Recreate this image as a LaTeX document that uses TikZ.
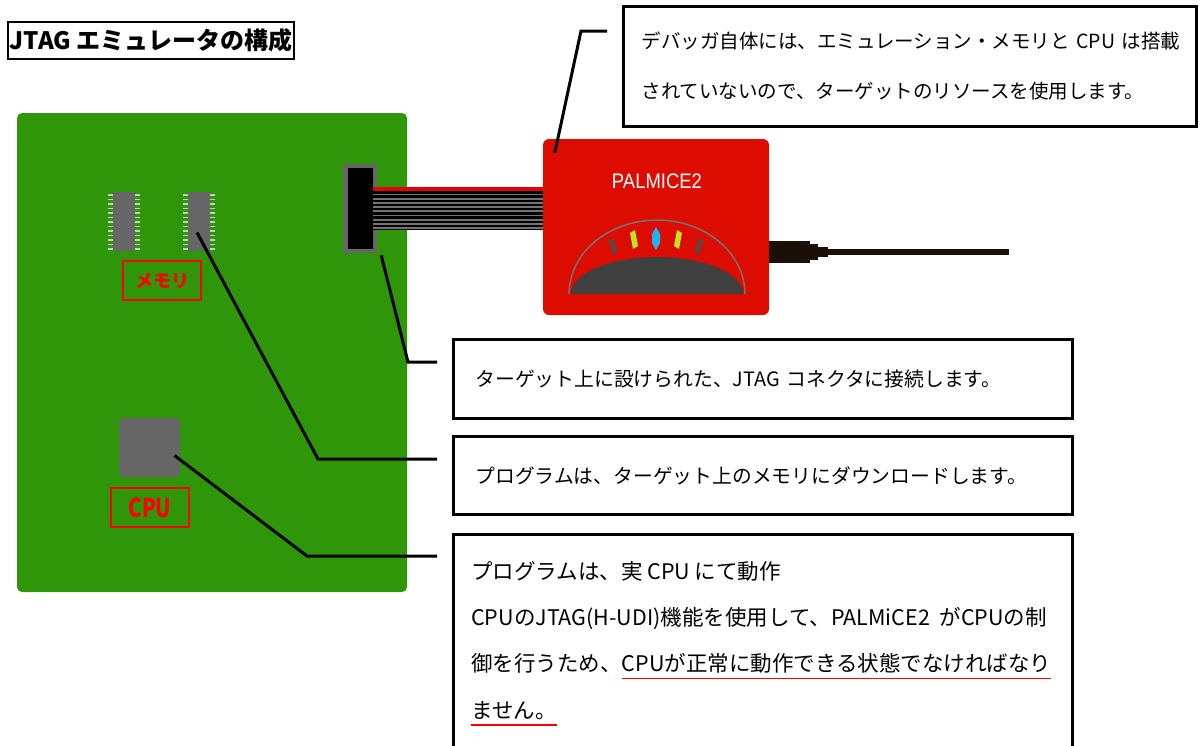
\documentclass[tikz,border=0pt]{standalone}
\usepackage{fontspec}
\usepackage{graphicx}
\newfontfamily\jp{Noto Sans CJK JP}
\newfontfamily\arial{Liberation Sans}
\definecolor{board}{RGB}{47,150,10}
\definecolor{icered}{RGB}{221,12,0}
\definecolor{chipgray}{RGB}{102,102,102}
\definecolor{domegray}{RGB}{64,64,64}
\definecolor{ledgreen}{RGB}{190,230,30}
\definecolor{ledblue}{RGB}{30,180,240}
\definecolor{cable}{RGB}{26,16,8}
% red underline under a run of text
\newcommand{\redline}[1]{\setbox0\hbox{#1}\rlap{\color{red}\rule[-7.5pt]{\wd0}{1.8pt}}\box0}

\begin{document}
\begin{tikzpicture}[x=1pt, y=-1pt,
  lead/.style={line width=3pt},
  note/.style={draw, line width=3pt, anchor=north west, align=left, inner xsep=22pt,
    font={\jp\fontsize{19.8pt}{50pt}\selectfont}},
  tag/.style={draw=red, line width=1.5pt, text=red, inner sep=0pt,
    minimum width=78pt, minimum height=39pt},
  chip/.style={fill=chipgray, inner sep=0pt}]
\useasboundingbox (0,0) rectangle (1200,745);
\clip (0,0) rectangle (1200,745);

% title
\node[draw, line width=1.5pt, inner sep=0pt, minimum width=286pt, minimum height=37pt,
  font={\jp\bfseries\fontsize{24pt}{28pt}\selectfont}] (title) at (151,40.5) {JTAG エミュレータの構成};

% target board
\fill[board, rounded corners=5pt] (17,113) rectangle (407,592);
% memory chips with pins
\node[chip, minimum width=22pt, minimum height=59pt] (mem1) at (124,221.5) {};
\node[chip, minimum width=22pt, minimum height=59pt] (mem2) at (199,221.5) {};
\foreach \x in {108,135,183,210} {
  \foreach \k in {0,...,12} {
    \fill[black!20] (\x,{194+\k*4.5}) rectangle ({\x+5},{195.8+\k*4.5});
  }
}
\node[tag, font={\jp\bfseries\fontsize{18pt}{20pt}\selectfont}] (memtag) at (162,280.5) {メモリ};
% cpu
\node[chip, rounded corners=4pt, minimum width=61pt, minimum height=59pt] (cpu) at (149.5,447.5) {};
\node[tag, font={\jp\bfseries\fontsize{26pt}{28pt}\selectfont}] (cputag) at (150,507.5) {\scalebox{0.78}[1]{CPU}};
% jtag connector
\node[fill=chipgray, inner sep=0pt, minimum width=34pt, minimum height=89pt] (jtag) at (360,208.5) {};
\fill[black] (348,168) rectangle (373,249);

% ribbon cable
\fill[black] (373,187) rectangle (543,230);
\fill[red!90!black] (373,187) rectangle (543,190.5);
\foreach \k in {0,...,8} {
  \fill[black!55] (373,{193.5+\k*4.2}) rectangle (543,{195.3+\k*4.2});
}

% emulator pod
\node[fill=icered, rounded corners=6pt, inner sep=0pt, minimum width=226pt, minimum height=176pt] (ice) at (656,227) {};
\node[text=white, font={\arial\fontsize{21pt}{24pt}\selectfont}] (icename) at (657,181) {\scalebox{0.88}[1]{PALMICE2}};
\fill[domegray] plot[domain=180:360, samples=40] ({657+86*cos(\x)},{294+37*sin(\x)}) -- cycle;
\draw[black!55, line width=1.5pt] plot[domain=180:360, samples=40] ({657+88*cos(\x)},{294+74*sin(\x)});
% indicator lamps
\fill[black!70] (609,240) -- (613,238) -- (617,252) -- (613,255) -- cycle;
\fill[ledgreen] (630,233) -- (635,230) -- (638,246) -- (633,249) -- cycle;
\fill[ledblue] (656,227) -- (660,234) -- (660,243) -- (656,250) -- (652,243) -- (652,234) -- cycle;
\fill[ledgreen] (682,233) -- (677,230) -- (674,246) -- (679,249) -- cycle;
\fill[black!70] (703,240) -- (699,238) -- (695,252) -- (699,255) -- cycle;
% host cable
\fill[cable] (769,241) rectangle (810,263);
\fill[cable] (810,244) rectangle (818,260);
\fill[cable] (818,247) rectangle (828,257);
\fill[cable] (828,249) rectangle (1009,255);

% notes
\node[note, text width=537pt, inner xsep=18pt, minimum height=120pt,
  font={\jp\fontsize{19.5pt}{50pt}\selectfont}] (dbg) at (622,5)
  {\mbox{デバッガ自体には、エミュレーション・メモリと CPU は搭載}\\
   \mbox{されていないので、ターゲットのリソースを使用します。}};
\node[note, text width=575pt, minimum height=79pt] (tgt) at (452,338)
  {ターゲット上に設けられた、JTAG コネクタに接続します。};
\node[note, text width=575pt, minimum height=78pt] (dl) at (452,435)
  {プログラムは、ターゲット上のメモリにダウンロードします。};
\node[draw, line width=3pt, anchor=north west, minimum width=619pt, minimum height=240pt] (cpubox) at (452,533) {};
\node[anchor=north west, align=left, inner sep=0pt, font={\jp\fontsize{21.5pt}{46.3pt}\selectfont}] (cputext)
  at ([shift={(19,28)}]cpubox.north west)
  {プログラムは、実 CPU にて動作\\
   CPUのJTAG(H-UDI)機能を使用して、PALMiCE2\ \ がCPUの制\\
   御を行うため、\redline{CPUが正常に動作できる状態でなければなり}\\
   \redline{ません。}};

% leader lines
\coordinate (k0) at (581,31);  \coordinate (e0) at (607,31);
\coordinate (k1) at (408,362); \coordinate (e1) at (437,362);
\coordinate (k2) at (318,459); \coordinate (e2) at (437,459);
\coordinate (k3) at (307,556); \coordinate (e3) at (437,556);
\draw[lead] ([shift={(12,14)}]ice.north west) -- (k0) -- (e0);
\draw[lead] ([shift={(4,2)}]jtag.south east) -- (k1) -- (e1);
\draw[lead] ([shift={(-2,11)}]mem2.center) -- (k2) -- (e2);
\draw[lead] ([shift={(25,8)}]cpu.center) -- (k3) -- (e3);
\end{tikzpicture}
\end{document}
